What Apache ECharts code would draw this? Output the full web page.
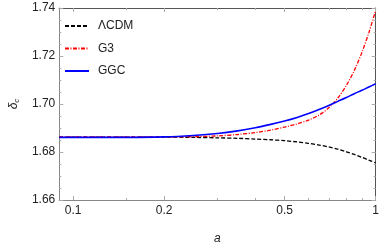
<!DOCTYPE html>
<html>
<head>
<meta charset="utf-8">
<script src="https://cdn.jsdelivr.net/npm/echarts@6/dist/echarts.min.js"></script>
<style>html,body{margin:0;padding:0;background:#fff;}#c{width:382px;height:250px;}</style>
</head>
<body>
<div id="c"></div>
<script>
// scale factor a (log axis)
const aVals = [0.09,0.1,0.12,0.15,0.2,0.25,0.3,0.35,0.4,0.45,0.5,0.55,0.6,0.65,0.7,0.75,0.8,0.85,0.9,0.95,1.0];
const lcdm  = [1.6862,1.6862,1.6862,1.6862,1.6862,1.6861,1.6859,1.6857,1.6854,1.6851,1.6847,1.6842,1.6836,1.6829,1.6821,1.6812,1.6801,1.6790,1.6778,1.6766,1.6755];
const g3    = [1.6863,1.6863,1.6863,1.6863,1.6863,1.6864,1.6867,1.6873,1.6881,1.6891,1.6904,1.6917,1.6933,1.6954,1.6984,1.7025,1.7077,1.7140,1.7214,1.7298,1.7390];
const ggc   = [1.6861,1.6861,1.6861,1.6861,1.6863,1.6869,1.6877,1.6888,1.6901,1.6915,1.6929,1.6944,1.6960,1.6977,1.6994,1.7011,1.7027,1.7043,1.7057,1.7071,1.7084];
const seriesNames = ['ΛCDM','G3','GGC'];
const xMajorTicks = [0.1,0.2,0.5,1];
const xMinorTicks = [0.15,0.3,0.4,0.6,0.7,0.8,0.9];
const xMin = 0.09, xMax = 1;
const yMin = 1.66, yMax = 1.74, yStep = 0.02;

const L = v => Math.log10(v);
const font = "'Liberation Sans', Arial, sans-serif";
const tickColor = '#aaa';
const fmtX = v => String(parseFloat(Math.pow(10, v).toPrecision(2)));

function xAx(pos, ticks, len, labels, lineColor) {
  return {
    type: 'value', min: L(xMin), max: L(xMax), position: pos,
    axisLine: {show: true, onZero: false, lineStyle: {color: lineColor, width: 1}},
    axisTick: {show: true, inside: true, length: len, customValues: ticks.map(L), lineStyle: {color: tickColor}},
    axisLabel: labels ? {show: true, customValues: xMajorTicks.map(L), formatter: fmtX, color: '#222', fontSize: 12, fontFamily: font, margin: 5} : {show: false},
    splitLine: {show: false}
  };
}
const xAxes = [
  xAx('bottom', xMajorTicks, 4, true, '#888'),
  xAx('bottom', xMinorTicks, 2, false, '#888'),
  xAx('top', xMajorTicks, 4, false, '#555'),
  xAx('top', xMinorTicks, 2, false, '#555')
];
Object.assign(xAxes[0], {name: 'a', nameLocation: 'middle', nameGap: 33, nameTextStyle: {fontStyle: 'italic', fontSize: 12, fontFamily: font, color: '#222'}});

function yAx(pos, labels, lineColor) {
  return {
    type: 'value', min: yMin, max: yMax, interval: yStep, position: pos,
    axisLine: {show: true, onZero: false, lineStyle: {color: lineColor, width: 1}},
    axisTick: {show: true, inside: true, length: 4, lineStyle: {color: tickColor}},
    minorTick: {show: true, splitNumber: 4, length: 2, lineStyle: {color: tickColor}},
    axisLabel: labels ? {show: true, formatter: v => v.toFixed(2), color: '#222', fontSize: 12, fontFamily: font, margin: 4} : {show: false},
    splitLine: {show: false}
  };
}
const yAxes = [yAx('left', true, '#888'), yAx('right', false, '#555')];
Object.assign(yAxes[0], {
  name: '{d|δ}{s|c}', nameLocation: 'middle', nameGap: 36, nameRotate: 90,
  nameTextStyle: {fontFamily: font, color: '#222', rich: {d: {fontSize: 12, fontStyle: 'italic', fontFamily: font, color: '#222'}, s: {fontSize: 8, fontStyle: 'italic', fontFamily: font, color: '#222', verticalAlign: 'bottom', padding: [6, 0, 0, 0]}}}
});

const styles = [
  {color: '#000000', width: 1.3, type: [4, 2]},
  {color: '#ff0000', width: 1.3, type: [4, 1.5, 1, 1.5]},
  {color: '#0000ff', width: 1.6, type: 'solid'}
];
const vals = [lcdm, g3, ggc];
const series = seriesNames.map((n, k) => ({
  name: n, type: 'line', xAxisIndex: 0, yAxisIndex: 0, symbol: 'none', smooth: 0.3,
  lineStyle: styles[k], itemStyle: {color: styles[k].color},
  data: aVals.map((a, i) => [L(a), vals[k][i]])
}));

const chart = echarts.init(document.getElementById('c'), null, {renderer: 'canvas'});
chart.setOption({
  animation: false,
  backgroundColor: '#fff',
  grid: {left: 46, right: 5, top: 8, bottom: 38},
  legend: {
    data: seriesNames, orient: 'vertical', left: 59, top: 15, itemWidth: 24, itemHeight: 10, itemGap: 10.5,
    itemStyle: {color: 'rgba(0,0,0,0)', borderWidth: 0, opacity: 0},
    textStyle: {fontSize: 12, fontFamily: font, color: '#222', padding: [0, 0, 0, 4]}
  },
  xAxis: xAxes,
  yAxis: yAxes,
  series: series
});
</script>
</body>
</html>
